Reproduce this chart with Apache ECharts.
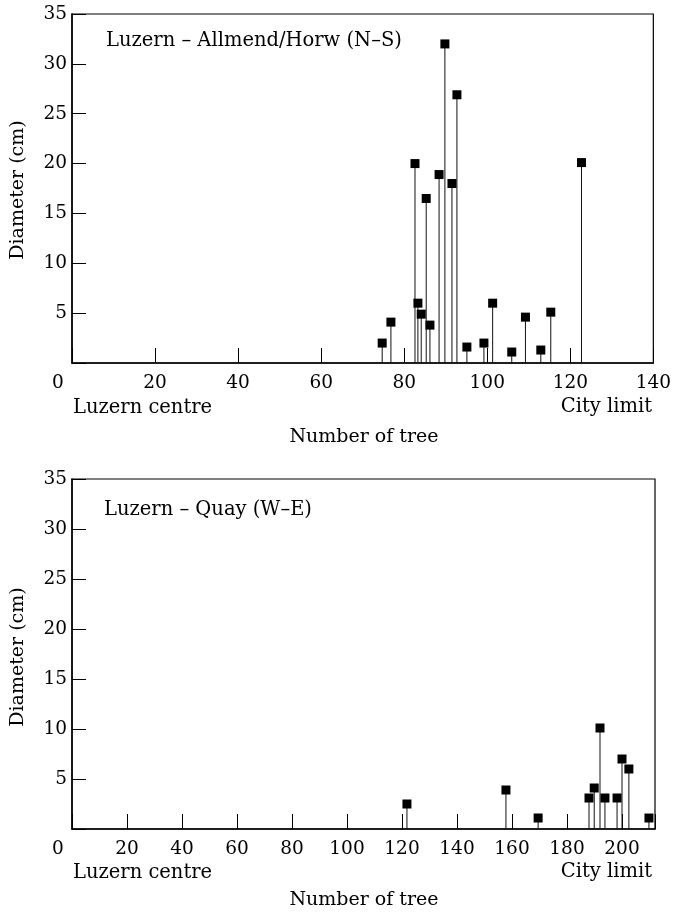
<!DOCTYPE html>
<html>
<head>
<meta charset="utf-8">
<script src="https://cdn.jsdelivr.net/npm/echarts@6/dist/echarts.min.js"></script>
<style>
html,body{margin:0;padding:0;background:#fff;}
#chart{width:674px;height:914px;}
</style>
</head>
<body>
<div id="chart"></div>
<script>
// ---- data ----
const topTitle = 'Luzern – Allmend/Horw (N–S)';
const topTree = [74.7, 76.8, 82.6, 83.3, 84.1, 85.3, 86.2, 88.4, 89.8, 91.5, 92.7, 95.1, 99.2, 101.3, 105.9, 109.2, 112.9, 115.3, 122.7];
const topDiam = [2.0, 4.1, 20.0, 6.0, 4.9, 16.5, 3.8, 18.9, 32.0, 18.0, 26.9, 1.6, 2.0, 6.0, 1.1, 4.6, 1.3, 5.1, 20.1];

const bottomTitle = 'Luzern – Quay (W–E)';
const bottomTree = [121.8, 157.8, 169.5, 188.0, 189.9, 192.0, 193.8, 198.2, 200.0, 202.5, 209.8];
const bottomDiam = [2.5, 3.9, 1.1, 3.1, 4.1, 10.1, 3.1, 3.1, 7.0, 6.0, 1.1];

const topXMax = 140;
const bottomXMax = 212;
const xInterval = 20;
const yMax = 35;
const yInterval = 5;

const xAxisTitle = 'Number of tree';
const yAxisTitle = 'Diameter (cm)';
const startLabel = 'Luzern centre';
const endLabel = 'City limit';

// ---- build ----
const FONT = 'DejaVu Serif';
const FS = 18.5;

function pairs(xs, ys) { return xs.map((x, i) => [x, ys[i]]); }

function xAxisCfg(gridIndex, max) {
  return {
    type: 'value', gridIndex, min: 0, max, interval: xInterval,
    axisLine: { show: true, lineStyle: { color: '#000', width: 1.5 } },
    axisTick: { show: true, inside: true, length: 15, lineStyle: { color: '#000', width: 1 } },
    splitLine: { show: false },
    axisLabel: {
      margin: 11, color: '#000', fontFamily: FONT, fontSize: FS,
      formatter: v => (v === 0 ? '{z|0}' : (v % xInterval === 0 ? String(v) : '')),
      rich: { z: { fontFamily: FONT, fontSize: FS, color: '#000', padding: [0, 28, 0, 0] } }
    }
  };
}
function yAxisCfg(gridIndex) {
  return {
    type: 'value', gridIndex, min: 0, max: yMax, interval: yInterval,
    axisLine: { show: true, lineStyle: { color: '#000', width: 1.5 } },
    axisTick: { show: true, inside: true, length: 14, lineStyle: { color: '#000', width: 1 } },
    splitLine: { show: false },
    axisLabel: {
      margin: 5, color: '#000', fontFamily: FONT, fontSize: FS,
      formatter: v => (v === 0 ? '' : String(v))
    }
  };
}

function stemSeries(idx, data) {
  return {
    type: 'custom', xAxisIndex: idx, yAxisIndex: idx, data,
    silent: true, z: 2,
    renderItem: (params, api) => {
      const x = api.value(0), y = api.value(1);
      const p0 = api.coord([x, 0]);
      const p1 = api.coord([x, y]);
      return { type: 'line', shape: { x1: p0[0], y1: p0[1], x2: p1[0], y2: p1[1] },
               style: { stroke: '#111', lineWidth: 1 } };
    }
  };
}
function markerSeries(idx, data) {
  return {
    type: 'scatter', xAxisIndex: idx, yAxisIndex: idx, data,
    symbol: 'rect', symbolSize: 9, z: 3,
    itemStyle: { color: '#000', opacity: 1 }
  };
}

function txt(text, x, y, align, size, rot) {
  return { type: 'text', x, y, rotation: rot || 0,
    style: { text, fill: '#000', font: size + 'px "' + FONT + '"', align, verticalAlign: 'middle' } };
}

const option = {
  backgroundColor: '#fff',
  animation: false,
  grid: [
    { left: 72, top: 14, width: 583, height: 349, show: true, borderColor: '#000', borderWidth: 1.2, backgroundColor: 'transparent' },
    { left: 72, top: 479, width: 583, height: 350, show: true, borderColor: '#000', borderWidth: 1.2, backgroundColor: 'transparent' }
  ],
  xAxis: [xAxisCfg(0, topXMax), xAxisCfg(1, bottomXMax)],
  yAxis: [yAxisCfg(0), yAxisCfg(1)],
  series: [
    stemSeries(0, pairs(topTree, topDiam)),
    markerSeries(0, pairs(topTree, topDiam)),
    stemSeries(1, pairs(bottomTree, bottomDiam)),
    markerSeries(1, pairs(bottomTree, bottomDiam))
  ],
  graphic: [
    txt(topTitle, 106, 41, 'left', 19.5),
    txt(startLabel, 73, 408, 'left', 19.5),
    txt(endLabel, 652, 407, 'right', 19.5),
    txt(xAxisTitle, 364, 437, 'center', 19),
    txt(yAxisTitle, 18, 190, 'center', 19, Math.PI / 2),
    txt(bottomTitle, 104, 510, 'left', 19.5),
    txt(startLabel, 73, 873, 'left', 19.5),
    txt(endLabel, 652, 872, 'right', 19.5),
    txt(xAxisTitle, 364, 900, 'center', 19),
    txt(yAxisTitle, 18, 657, 'center', 19, Math.PI / 2)
  ]
};

const chart = echarts.init(document.getElementById('chart'), null, { renderer: 'canvas' });
chart.setOption(option);
</script>
</body>
</html>
